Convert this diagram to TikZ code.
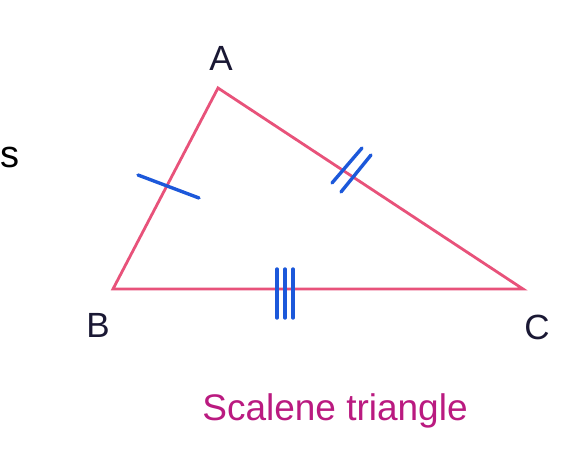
\documentclass[tikz,border=0pt]{standalone}
\usepackage{fontspec}
\setmainfont{Liberation Sans}
\usepackage{tikz}

\definecolor{sidepink}{RGB}{232,82,122}
\definecolor{tickblue}{RGB}{28,88,218}
\definecolor{titlemag}{RGB}{186,26,128}
\definecolor{labelink}{RGB}{26,24,52}

\begin{document}
\begin{tikzpicture}[x=1pt,y=-1pt,
        side/.style={draw=sidepink,line width=2.8pt,line join=miter},
        tick/.style={draw=tickblue,line width=3.4pt,line cap=round},
        vlabel/.style={text=labelink,inner sep=0pt,anchor=base,font=\fontsize{35}{40}\selectfont},
        title/.style={text=titlemag,inner sep=0pt,anchor=base,font=\fontsize{37}{42}\selectfont}]

    \useasboundingbox[fill=white] (0,0) rectangle (571,453);

    % Vertices
    \coordinate (A) at (218,88);
    \coordinate (B) at (113,289);
    \coordinate (C) at (523,289);

    % Labels
    \node[vlabel] (labA) at (221,70) {A};
    \node[vlabel] (labB) at (98,337) {B};
    \node[vlabel] (labC) at (537,339) {C};
    \node[vlabel,text=black,font=\fontsize{38}{42}\selectfont] (cut) at (10,167) {s};
    \node[title] (name) at (335,420) {Scalene triangle};

    % Sides
    \draw[side] (A) -- (B) -- (C) -- cycle;

    % Tick marks
    \draw[tick] (138,175) -- (199,198);
    \draw[tick] (362,148) -- (332,183);
    \draw[tick] (371,155) -- (341,192);
    \foreach \x in {277,285,293}
        \draw[tick] (\x,269) -- (\x,318);
\end{tikzpicture}
\end{document}
